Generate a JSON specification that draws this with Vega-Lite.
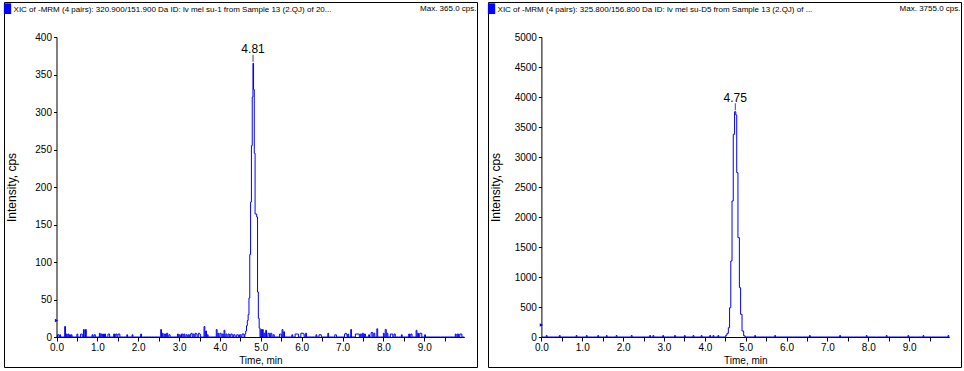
{
 "$schema": "https://vega.github.io/schema/vega-lite/v6.json",
 "background": "white",
 "padding": {"left": 3, "top": 1, "right": 0, "bottom": 0},
 "spacing": 9,
 "config": {
  "view": {"stroke": "black", "strokeWidth": 1},
  "font": "Liberation Sans",
  "axis": {"grid": false, "domainColor": "black", "tickColor": "black", "labelColor": "black", "titleColor": "black", "labelFontSize": 10, "titleFontSize": 10, "titleFontWeight": "normal", "tickSize": 4, "domainWidth": 1, "labelFlush": false, "labelOverlap": false},
  "title": {"fontSize": 8, "fontWeight": "normal", "color": "black", "anchor": "start", "font": "Liberation Sans"}
 },
 "datasets": {
  "left": [
{"t":0,"v":0},{"t":0.05,"v":3},{"t":0.07,"v":0},{"t":0.09,"v":3},{"t":0.11,"v":0},{"t":0.19,"v":0},{"t":0.21,"v":14},{"t":0.23,"v":0},{"t":0.25,"v":4},{"t":0.27,"v":0},{"t":0.29,"v":4},{"t":0.31,"v":0},{"t":0.33,"v":3},{"t":0.35,"v":0},{"t":0.37,"v":3},{"t":0.39,"v":0},{"t":0.49,"v":0},{"t":0.51,"v":4},{"t":0.53,"v":0},{"t":0.58,"v":0},{"t":0.60,"v":4},{"t":0.62,"v":4},{"t":0.64,"v":0},{"t":0.65,"v":0},{"t":0.67,"v":10},{"t":0.69,"v":0},{"t":0.70,"v":0},{"t":0.72,"v":10},{"t":0.74,"v":0},{"t":0.86,"v":0},{"t":0.88,"v":3},{"t":0.90,"v":0},{"t":0.94,"v":3},{"t":0.96,"v":0},{"t":1.04,"v":0},{"t":1.06,"v":5},{"t":1.08,"v":0},{"t":1.10,"v":4},{"t":1.12,"v":0},{"t":1.14,"v":4},{"t":1.16,"v":0},{"t":1.19,"v":4},{"t":1.21,"v":0},{"t":1.25,"v":0},{"t":1.27,"v":4},{"t":1.29,"v":4},{"t":1.31,"v":0},{"t":1.39,"v":0},{"t":1.41,"v":4},{"t":1.43,"v":0},{"t":1.47,"v":4},{"t":1.49,"v":0},{"t":1.52,"v":4},{"t":1.54,"v":4},{"t":1.56,"v":0},{"t":1.71,"v":0},{"t":1.73,"v":3},{"t":1.75,"v":0},{"t":1.84,"v":0},{"t":1.86,"v":3},{"t":1.88,"v":0},{"t":2.05,"v":0},{"t":2.07,"v":4},{"t":2.09,"v":0},{"t":2.54,"v":0},{"t":2.56,"v":10},{"t":2.58,"v":0},{"t":2.60,"v":5},{"t":2.62,"v":0},{"t":2.66,"v":4},{"t":2.68,"v":0},{"t":2.71,"v":5},{"t":2.73,"v":0},{"t":2.77,"v":3},{"t":2.79,"v":0},{"t":2.95,"v":0},{"t":2.97,"v":4},{"t":2.99,"v":0},{"t":3.02,"v":3},{"t":3.04,"v":0},{"t":3.08,"v":4},{"t":3.10,"v":0},{"t":3.13,"v":4},{"t":3.15,"v":0},{"t":3.19,"v":3},{"t":3.21,"v":0},{"t":3.24,"v":3},{"t":3.26,"v":0},{"t":3.29,"v":4},{"t":3.31,"v":5},{"t":3.33,"v":0},{"t":3.36,"v":4},{"t":3.38,"v":0},{"t":3.41,"v":5},{"t":3.43,"v":4},{"t":3.45,"v":0},{"t":3.49,"v":5},{"t":3.51,"v":4},{"t":3.53,"v":0},{"t":3.60,"v":0},{"t":3.62,"v":14},{"t":3.64,"v":0},{"t":3.66,"v":8},{"t":3.68,"v":0},{"t":3.70,"v":3},{"t":3.72,"v":0},{"t":3.90,"v":0},{"t":3.92,"v":10},{"t":3.94,"v":0},{"t":3.96,"v":5},{"t":3.98,"v":0},{"t":4.02,"v":5},{"t":4.04,"v":0},{"t":4.07,"v":4},{"t":4.09,"v":0},{"t":4.11,"v":9},{"t":4.13,"v":0},{"t":4.16,"v":4},{"t":4.18,"v":0},{"t":4.22,"v":4},{"t":4.24,"v":0},{"t":4.29,"v":4},{"t":4.31,"v":0},{"t":4.36,"v":3},{"t":4.38,"v":0},{"t":4.44,"v":3},{"t":4.46,"v":0},{"t":4.50,"v":3},{"t":4.52,"v":0},{"t":4.56,"v":4},{"t":4.58,"v":4},{"t":4.60,"v":0},{"t":4.62,"v":4},{"t":4.64,"v":8},{"t":4.66,"v":15},{"t":4.68,"v":22},{"t":4.70,"v":30},{"t":4.72,"v":52},{"t":4.74,"v":110},{"t":4.76,"v":180},{"t":4.78,"v":255},{"t":4.80,"v":320},{"t":4.815,"v":365},{"t":4.83,"v":330},{"t":4.85,"v":245},{"t":4.87,"v":164},{"t":4.89,"v":164},{"t":4.91,"v":160},{"t":4.93,"v":60},{"t":4.95,"v":25},{"t":4.97,"v":12},{"t":4.99,"v":0},{"t":5.01,"v":10},{"t":5.03,"v":0},{"t":5.05,"v":10},{"t":5.07,"v":0},{"t":5.09,"v":5},{"t":5.11,"v":0},{"t":5.13,"v":9},{"t":5.15,"v":0},{"t":5.20,"v":5},{"t":5.22,"v":0},{"t":5.26,"v":5},{"t":5.28,"v":0},{"t":5.32,"v":3},{"t":5.34,"v":0},{"t":5.45,"v":0},{"t":5.47,"v":4},{"t":5.49,"v":4},{"t":5.51,"v":0},{"t":5.53,"v":10},{"t":5.55,"v":0},{"t":5.57,"v":7},{"t":5.59,"v":0},{"t":5.75,"v":0},{"t":5.77,"v":3},{"t":5.79,"v":0},{"t":5.89,"v":4},{"t":5.91,"v":4},{"t":5.93,"v":0},{"t":6.03,"v":5},{"t":6.05,"v":4},{"t":6.07,"v":0},{"t":6.11,"v":5},{"t":6.13,"v":0},{"t":6.34,"v":0},{"t":6.36,"v":3},{"t":6.38,"v":0},{"t":6.47,"v":3},{"t":6.49,"v":0},{"t":6.63,"v":0},{"t":6.65,"v":5},{"t":6.67,"v":0},{"t":6.80,"v":0},{"t":6.82,"v":3},{"t":6.84,"v":3},{"t":6.86,"v":0},{"t":7.04,"v":0},{"t":7.06,"v":4},{"t":7.08,"v":5},{"t":7.10,"v":4},{"t":7.12,"v":0},{"t":7.14,"v":4},{"t":7.16,"v":0},{"t":7.19,"v":0},{"t":7.21,"v":10},{"t":7.23,"v":0},{"t":7.40,"v":4},{"t":7.42,"v":0},{"t":7.45,"v":4},{"t":7.47,"v":0},{"t":7.50,"v":5},{"t":7.52,"v":0},{"t":7.55,"v":4},{"t":7.57,"v":0},{"t":7.63,"v":0},{"t":7.65,"v":3},{"t":7.67,"v":0},{"t":7.73,"v":6},{"t":7.75,"v":0},{"t":7.78,"v":5},{"t":7.80,"v":0},{"t":7.83,"v":0},{"t":7.85,"v":11},{"t":7.87,"v":0},{"t":7.99,"v":0},{"t":8.01,"v":5},{"t":8.03,"v":0},{"t":8.06,"v":10},{"t":8.08,"v":0},{"t":8.10,"v":5},{"t":8.12,"v":0},{"t":8.22,"v":4},{"t":8.24,"v":0},{"t":8.28,"v":4},{"t":8.30,"v":0},{"t":8.43,"v":0},{"t":8.45,"v":3},{"t":8.47,"v":0},{"t":8.61,"v":0},{"t":8.63,"v":4},{"t":8.65,"v":0},{"t":8.69,"v":4},{"t":8.71,"v":0},{"t":8.79,"v":0},{"t":8.81,"v":9},{"t":8.83,"v":0},{"t":8.85,"v":5},{"t":8.87,"v":0},{"t":8.91,"v":5},{"t":8.93,"v":5},{"t":8.95,"v":0},{"t":9.00,"v":0},{"t":9.02,"v":3},{"t":9.04,"v":0},{"t":9.75,"v":0},{"t":9.77,"v":4},{"t":9.79,"v":0},{"t":9.83,"v":4},{"t":9.85,"v":0},{"t":9.89,"v":4},{"t":9.91,"v":4},{"t":9.93,"v":0},{"t":9.98,"v":0}
  ],
  "right": [
{"t":0,"v":0},{"t":0.11,"v":0},{"t":0.13,"v":25},{"t":0.15,"v":0},{"t":0.43,"v":0},{"t":0.45,"v":25},{"t":0.47,"v":0},{"t":0.84,"v":0},{"t":0.86,"v":25},{"t":0.88,"v":0},{"t":1.09,"v":0},{"t":1.11,"v":25},{"t":1.13,"v":0},{"t":1.37,"v":0},{"t":1.39,"v":25},{"t":1.41,"v":0},{"t":1.58,"v":0},{"t":1.60,"v":25},{"t":1.62,"v":0},{"t":1.82,"v":0},{"t":1.84,"v":25},{"t":1.86,"v":0},{"t":2.19,"v":0},{"t":2.21,"v":25},{"t":2.23,"v":0},{"t":2.64,"v":0},{"t":2.66,"v":25},{"t":2.68,"v":0},{"t":2.72,"v":0},{"t":2.74,"v":25},{"t":2.76,"v":0},{"t":2.96,"v":0},{"t":2.98,"v":25},{"t":3.00,"v":0},{"t":3.25,"v":0},{"t":3.27,"v":25},{"t":3.29,"v":0},{"t":3.49,"v":0},{"t":3.51,"v":25},{"t":3.53,"v":0},{"t":3.70,"v":0},{"t":3.72,"v":25},{"t":3.74,"v":0},{"t":3.90,"v":0},{"t":3.92,"v":25},{"t":3.94,"v":0},{"t":4.11,"v":0},{"t":4.13,"v":25},{"t":4.15,"v":0},{"t":4.19,"v":0},{"t":4.21,"v":25},{"t":4.23,"v":0},{"t":4.31,"v":0},{"t":4.33,"v":25},{"t":4.35,"v":0},{"t":4.50,"v":0},{"t":4.525,"v":30},{"t":4.56,"v":60},{"t":4.59,"v":155},{"t":4.62,"v":488},{"t":4.65,"v":1267},{"t":4.68,"v":2267},{"t":4.71,"v":3378},{"t":4.745,"v":3755},{"t":4.77,"v":3700},{"t":4.79,"v":2739},{"t":4.83,"v":1656},{"t":4.86,"v":822},{"t":4.89,"v":378},{"t":4.93,"v":100},{"t":4.97,"v":20},{"t":5.00,"v":0},{"t":5.21,"v":0},{"t":5.23,"v":25},{"t":5.25,"v":0},{"t":5.70,"v":0},{"t":5.72,"v":25},{"t":5.74,"v":0},{"t":6.55,"v":0},{"t":6.57,"v":25},{"t":6.59,"v":0},{"t":7.29,"v":0},{"t":7.31,"v":25},{"t":7.33,"v":0},{"t":7.94,"v":0},{"t":7.96,"v":25},{"t":7.98,"v":0},{"t":8.43,"v":0},{"t":8.45,"v":25},{"t":8.47,"v":0},{"t":8.96,"v":0},{"t":8.98,"v":25},{"t":9.00,"v":0},{"t":9.33,"v":0},{"t":9.35,"v":25},{"t":9.37,"v":0},{"t":9.94,"v":0},{"t":9.96,"v":25},{"t":9.98,"v":0}
  ],
  "lpk": [{"t": 4.81, "v": 365, "label": "4.81"}],
  "rpk": [{"t": 4.745, "v": 3755, "label": "4.75"}],
  "lmk": [{"t": 0, "v": 22}],
  "rmk": [{"t": 0, "v": 200}]
 },
 "hconcat": [
  {
   "width": 473, "height": 365,
   "title": {"text": "XIC of -MRM (4 pairs): 320.900/151.900 Da ID: lv mel su-1 from Sample 13 (2.QJ) of 20...", "offset": -12, "dx": 10},
   "resolve": {"axis": {"x": "independent", "y": "independent"}},
   "layer": [
    {"data": {"name": "left"},
     "mark": {"type": "line", "interpolate": "step", "color": "#0000ff", "strokeWidth": 1},
     "encoding": {
      "x": {"field": "t", "type": "quantitative", "scale": {"domain": [0, 9.98], "range": [52.5, 460.3], "nice": false, "zero": false},
        "axis": {"orient": "bottom", "offset": -30, "values": [0,0.5,1,1.5,2,2.5,3,3.5,4,4.5,5,5.5,6,6.5,7,7.5,8,8.5,9,9.5], "labelExpr": "datum.value % 1 == 0 ? format(datum.value, '.1f') : ''", "labelPadding": 1, "labelOverlap": false, "title": "Time, min", "titleY": 23, "titleBaseline": "middle"}},
      "y": {"field": "v", "type": "quantitative", "scale": {"domain": [0, 400], "range": [335, 35], "nice": false},
        "axis": {"orient": "left", "offset": -52.5, "values": [0,50,100,150,200,250,300,350,400], "format": "d", "tickSize": 3, "labelPadding": 2, "labelOverlap": false, "title": "Intensity, cps", "titleFontSize": 12, "titleX": -45, "titleBaseline": "middle"}}
     }},
    {"data": {"name": "lpk"},
     "mark": {"type": "text", "fontSize": 12, "color": "black", "baseline": "middle", "dy": -14},
     "encoding": {
      "x": {"field": "t", "type": "quantitative", "axis": {"orient": "top", "domain": false, "ticks": false, "labels": false, "title": "Max. 365.0 cps.", "titleFontSize": 8, "titleX": 472, "titleY": 6, "titleAlign": "right", "titleBaseline": "middle"}},
      "y": {"field": "v", "type": "quantitative", "axis": null},
      "text": {"field": "label"}
     }},
    {"data": {"name": "lpk"},
     "mark": {"type": "tick", "orient": "vertical", "color": "black", "thickness": 1, "size": 7, "yOffset": -5, "opacity": 0.7},
     "encoding": {
      "x": {"field": "t", "type": "quantitative", "axis": null},
      "y": {"field": "v", "type": "quantitative", "axis": null}
     }},
    {"data": {"name": "lmk"},
     "mark": {"type": "point", "shape": "triangle-right", "filled": true, "color": "#0000ff", "size": 14, "opacity": 1},
     "encoding": {
      "x": {"field": "t", "type": "quantitative", "axis": null},
      "y": {"field": "v", "type": "quantitative", "axis": {"orient": "left", "offset": 0, "domain": false, "ticks": false, "labels": false, "title": "█", "titleColor": "#0000ff", "titleFont": "DejaVu Sans", "titleFontSize": 9, "titleAngle": 0, "titleX": 3, "titleY": 6, "titleAlign": "center", "titleBaseline": "middle"}}
     }}
   ]
  },
  {
   "width": 473, "height": 365,
   "title": {"text": "XIC of -MRM (4 pairs): 325.800/156.800 Da ID: lv mel su-D5 from Sample 13 (2.QJ) of ...", "offset": -12, "dx": 10},
   "resolve": {"axis": {"x": "independent", "y": "independent"}},
   "layer": [
    {"data": {"name": "right"},
     "mark": {"type": "line", "interpolate": "step", "color": "#0000ff", "strokeWidth": 1},
     "encoding": {
      "x": {"field": "t", "type": "quantitative", "scale": {"domain": [0, 9.98], "range": [53.4, 461.2], "nice": false, "zero": false},
        "axis": {"orient": "bottom", "offset": -30, "values": [0,0.5,1,1.5,2,2.5,3,3.5,4,4.5,5,5.5,6,6.5,7,7.5,8,8.5,9,9.5], "labelExpr": "datum.value % 1 == 0 ? format(datum.value, '.1f') : ''", "labelPadding": 1, "labelOverlap": false, "title": "Time, min", "titleY": 23, "titleBaseline": "middle"}},
      "y": {"field": "v", "type": "quantitative", "scale": {"domain": [0, 5000], "range": [335, 35], "nice": false},
        "axis": {"orient": "left", "offset": -53.4, "values": [0,500,1000,1500,2000,2500,3000,3500,4000,4500,5000], "format": "d", "tickSize": 3, "labelPadding": 2, "labelOverlap": false, "title": "Intensity, cps", "titleFontSize": 12, "titleX": -46, "titleBaseline": "middle"}}
     }},
    {"data": {"name": "rpk"},
     "mark": {"type": "text", "fontSize": 12, "color": "black", "baseline": "middle", "dy": -14},
     "encoding": {
      "x": {"field": "t", "type": "quantitative", "axis": {"orient": "top", "domain": false, "ticks": false, "labels": false, "title": "Max. 3755.0 cps.", "titleFontSize": 8, "titleX": 472, "titleY": 6, "titleAlign": "right", "titleBaseline": "middle"}},
      "y": {"field": "v", "type": "quantitative", "axis": null},
      "text": {"field": "label"}
     }},
    {"data": {"name": "rpk"},
     "mark": {"type": "tick", "orient": "vertical", "color": "black", "thickness": 1, "size": 7, "yOffset": -5, "opacity": 0.7},
     "encoding": {
      "x": {"field": "t", "type": "quantitative", "axis": null},
      "y": {"field": "v", "type": "quantitative", "axis": null}
     }},
    {"data": {"name": "rmk"},
     "mark": {"type": "point", "shape": "triangle-right", "filled": true, "color": "#0000ff", "size": 14, "opacity": 1},
     "encoding": {
      "x": {"field": "t", "type": "quantitative", "axis": null},
      "y": {"field": "v", "type": "quantitative", "axis": {"orient": "left", "offset": 0, "domain": false, "ticks": false, "labels": false, "title": "█", "titleColor": "#0000ff", "titleFont": "DejaVu Sans", "titleFontSize": 9, "titleAngle": 0, "titleX": 3, "titleY": 6, "titleAlign": "center", "titleBaseline": "middle"}}
     }}
   ]
  }
 ]
}
